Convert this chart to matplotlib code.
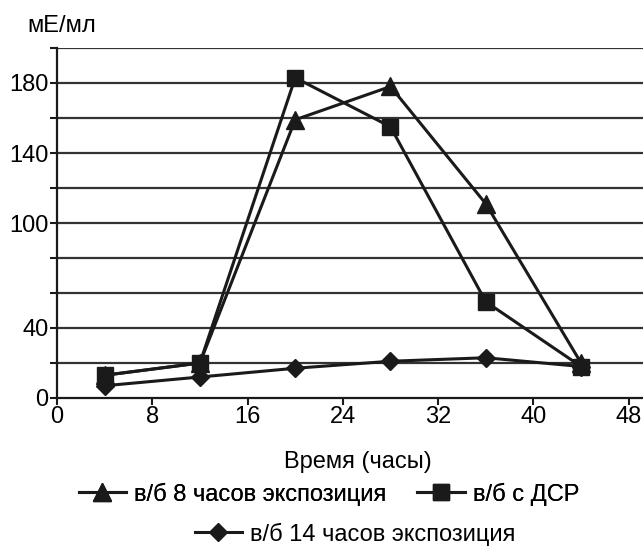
import matplotlib
matplotlib.use('Agg')
import matplotlib.pyplot as plt
from matplotlib.lines import Line2D

# Data
hours = [4, 12, 20, 28, 36, 44]
exp_8h = [13, 20, 159, 178, 111, 20]      # triangles
dsr = [13, 20, 183, 155, 55, 18]          # squares
exp_14h = [7, 12, 17, 21, 23, 18]         # diamonds

y_labels = [0, 40, 100, 140, 180]
x_ticks = [0, 8, 16, 24, 32, 40, 48]

plt.rcParams['font.family'] = ['Liberation Sans', 'DejaVu Sans']
col = '#1a1a1a'
fs = 17

fig = plt.figure(figsize=(6.43, 5.46), dpi=100)
ax = fig.add_axes([57/643, 148/546, 586/643, 350/546])

# horizontal grid every 20
for g in range(20, 201, 20):
    ax.axhline(g, color='#333333', lw=1.6, zorder=1)

ax.plot(hours, exp_8h, color=col, lw=2.2, marker='^', ms=13, zorder=3)
ax.plot(hours, dsr, color=col, lw=2.2, marker='s', ms=12, zorder=4)
ax.plot(hours, exp_14h, color=col, lw=2.2, marker='D', ms=9, zorder=3)

ax.set_xlim(0, 49.2)
ax.set_ylim(0, 200)
ax.set_xticks(x_ticks)
ax.set_yticks(y_labels)
ax.set_yticks(range(0, 201, 20), minor=True)
ax.tick_params(axis='both', labelsize=fs, color=col, width=1.5, length=5)
ax.tick_params(axis='y', which='minor', color=col, width=1.5, length=5)
ax.tick_params(axis='y', pad=1)
ax.tick_params(axis='x', pad=1)

for s in ['top', 'right']:
    ax.spines[s].set_visible(False)
for s in ['left', 'bottom']:
    ax.spines[s].set_color(col)
    ax.spines[s].set_linewidth(1.6)

fig.text(27/643, 1 - 26/546, 'мЕ/мл', fontsize=fs, va='center', ha='left')
fig.text(358/643, 1 - 462/546, 'Время (часы)', fontsize=fs, va='center', ha='center')

h1 = Line2D([], [], color=col, lw=2.2, marker='^', ms=13)
h2 = Line2D([], [], color=col, lw=2.2, marker='s', ms=12)
h3 = Line2D([], [], color=col, lw=2.2, marker='D', ms=9)

leg1 = fig.legend([h1, h2], ['в/б 8 часов экспозиция', 'в/б с ДСР'],
                  loc='center', bbox_to_anchor=(329/643, 1 - 494/546), ncol=2,
                  frameon=False, fontsize=fs, handlelength=2.0,
                  handletextpad=0.35, columnspacing=1.3, borderpad=0)
leg2 = fig.legend([h3], ['в/б 14 часов экспозиция'],
                  loc='center', bbox_to_anchor=(355/643, 1 - 534/546),
                  frameon=False, fontsize=fs, handlelength=2.0,
                  handletextpad=0.35, borderpad=0)
fig.add_artist(leg1)

fig.savefig('out.png', dpi=100)
